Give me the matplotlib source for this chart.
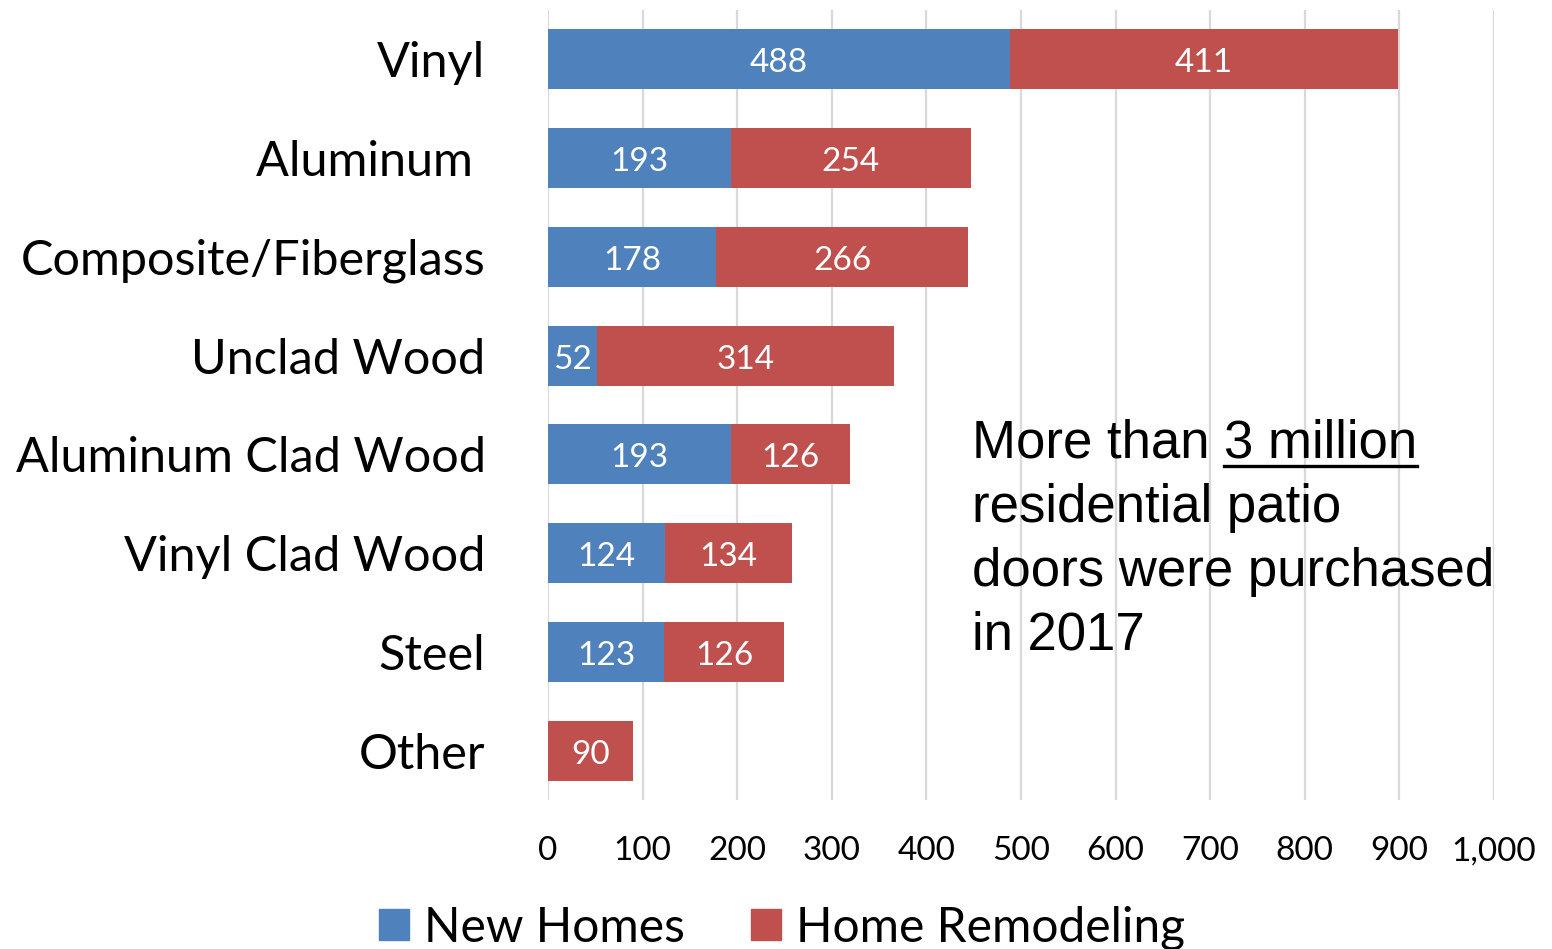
import matplotlib
matplotlib.use("Agg")
import matplotlib.pyplot as plt
from matplotlib.patches import Patch
import numpy as np

categories = ["Vinyl", "Aluminum ", "Composite/Fiberglass", "Unclad Wood",
              "Aluminum Clad Wood", "Vinyl Clad Wood", "Steel", "Other"]
new_homes = [488, 193, 178, 52, 193, 124, 123, 0]
remodeling = [411, 254, 266, 314, 126, 134, 126, 90]
series_names = ["New Homes", "Home Remodeling"]
x_ticks = [0, 100, 200, 300, 400, 500, 600, 700, 800, 900, 1000]

BLUE = "#4F81BD"
RED = "#C0504D"
GRID = "#D9D9D9"
LABEL_FONT = "Lato"
NOTE_FONT = "Liberation Sans"

fig = plt.figure(figsize=(15.52, 9.49), dpi=100)
ax = fig.add_axes([548 / 1552, 1 - 800 / 949, 946 / 1552, 790 / 949])

y = np.arange(len(categories))
h = 0.61
b1 = ax.barh(y, new_homes, height=h, color=BLUE, zorder=3)
b2 = ax.barh(y, remodeling, left=new_homes, height=h, color=RED, zorder=3)

for bars, vals, lefts in ((b1, new_homes, [0] * len(new_homes)),
                          (b2, remodeling, new_homes)):
    for v, l, yy in zip(vals, lefts, y):
        if v > 0:
            ax.text(l + v / 2, yy + 0.04, f"{v}", ha="center", va="center",
                    color="white", fontsize=24, family=LABEL_FONT, zorder=4)

ax.set_xlim(0, 1000)
ax.set_ylim(len(categories) - 0.5, -0.5)
ax.set_xticks(x_ticks)
ax.set_xticklabels([f"{t:,}" for t in x_ticks], family=LABEL_FONT, fontsize=24)
ax.set_yticks(y)
ax.set_yticklabels(categories, family=LABEL_FONT, fontsize=35)
ax.tick_params(axis="x", length=0, pad=26)
ax.tick_params(axis="y", length=0, pad=45)
ax.grid(axis="x", color=GRID, linewidth=1.6, zorder=0)
for s in ax.spines.values():
    s.set_visible(False)

handles = [Patch(color=BLUE), Patch(color=RED)]
fig.legend(handles, series_names, loc="center", bbox_to_anchor=(782 / 1552, 1 - 928 / 949),
           ncol=2, frameon=False, prop={"family": LABEL_FONT, "size": 34.5},
           handlelength=0.62, handleheight=0.62, handletextpad=0.3, columnspacing=1.4)

# Callout text with underlined phrase
note_x = 972 / 1552
line_tops = [419, 483, 547, 611]
note_lines = ["More than ", "residential patio", "doors were purchased", "in 2017"]
fs_note = 38
texts = []
for txt, top in zip(note_lines, line_tops):
    texts.append(fig.text(note_x, 1 - top / 949, txt, family=NOTE_FONT,
                          fontsize=fs_note, va="top", ha="left"))
fig.canvas.draw()
r = fig.canvas.get_renderer()
bb = texts[0].get_window_extent(r)
emph = fig.text(bb.x1 / 1552, 1 - line_tops[0] / 949, "3 million", family=NOTE_FONT,
                fontsize=fs_note, va="top", ha="left")
fig.canvas.draw()
eb = emph.get_window_extent(r)
uy = eb.y0 + 3
fig.add_artist(plt.Line2D([eb.x0 / 1552, eb.x1 / 1552], [uy / 949, uy / 949],
                          color="black", linewidth=2.4, transform=fig.transFigure))

fig.savefig("out.png", dpi=100)
